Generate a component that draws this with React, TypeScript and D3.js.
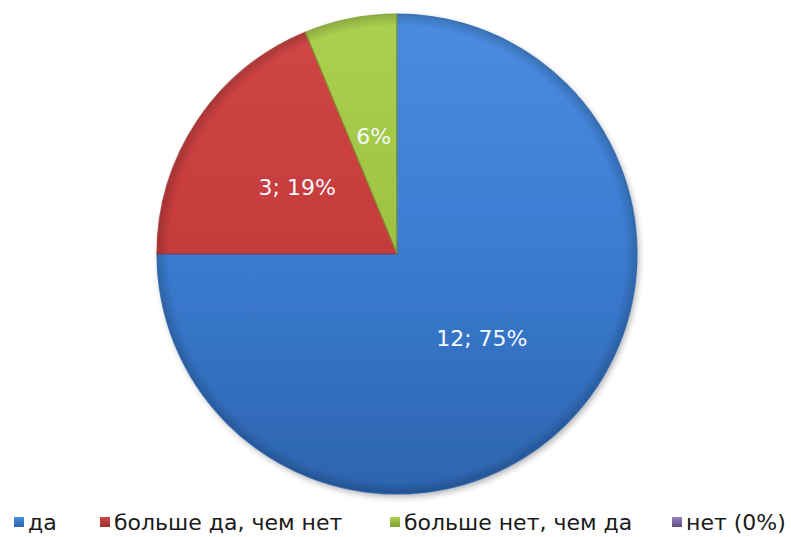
import React from "react";
import * as d3 from "d3";

const categories = ["да", "больше да, чем нет", "больше нет, чем да", "нет (0%)"];
const values = [12, 3, 1, 0];
const sliceLabels = ["12; 75%", "3; 19%", "6%", ""];
const colors = ["#3c7ed3", "#c63c3c", "#9ec442", "#8064a2"];
const darkColors = ["#2c64af", "#a32f2f", "#7f9f30", "#5f4a80"];
const lightColors = ["#4a8ce0", "#d04646", "#acd050", "#9a80bd"];

const W = 791;
const H = 537;
const cx = 397;
const cy = 254;
const R = 240;

export default function App() {
  const pie = d3.pie<number>().value((d) => d).sort(null).startAngle(0).endAngle(2 * Math.PI);
  const arcs = pie(values);
  const arc = d3.arc<d3.PieArcDatum<number>>().innerRadius(0).outerRadius(R);

  const legendX = [14, 100, 390, 672];

  return (
    <svg width={W} height={H} style={{ position: "absolute", left: 0, top: 0, background: "#fff" }}>
      <defs>
        {colors.map((c, i) => (
          <linearGradient key={i} id={`g${i}`} x1={0} y1={-R} x2={0} y2={R} gradientUnits="userSpaceOnUse">
            <stop offset="0%" stopColor={lightColors[i]} />
            <stop offset="45%" stopColor={c} />
            <stop offset="100%" stopColor={darkColors[i]} />
          </linearGradient>
        ))}
        {colors.map((c, i) => (
          <radialGradient key={"e" + i} id={`e${i}`} cx={0} cy={0} r={R} gradientUnits="userSpaceOnUse">
            <stop offset="0%" stopColor="#000" stopOpacity={0} />
            <stop offset="95%" stopColor="#000" stopOpacity={0} />
            <stop offset="100%" stopColor="#000" stopOpacity={0.18} />
          </radialGradient>
        ))}
        {colors.map((c, i) => (
          <linearGradient key={"l" + i} id={`lg${i}`} x1="0" y1="0" x2="0" y2="1">
            <stop offset="0%" stopColor={lightColors[i]} />
            <stop offset="100%" stopColor={darkColors[i]} />
          </linearGradient>
        ))}
        <filter id="shadow" x="-10%" y="-10%" width="130%" height="130%">
          <feGaussianBlur in="SourceAlpha" stdDeviation="3" />
          <feOffset dx="2" dy="3" result="ob" />
          <feComponentTransfer>
            <feFuncA type="linear" slope="0.3" />
          </feComponentTransfer>
          <feMerge>
            <feMergeNode />
            <feMergeNode in="SourceGraphic" />
          </feMerge>
        </filter>
      </defs>
      <g transform={`translate(${cx},${cy})`} filter="url(#shadow)">
        {arcs.map((a, i) =>
          a.value > 0 ? <path key={i} d={arc(a) || ""} fill={`url(#g${i})`} /> : null
        )}
      </g>
      <g transform={`translate(${cx},${cy})`}>
        {arcs.map((a, i) =>
          a.value > 0 ? <path key={"o" + i} d={arc(a) || ""} fill={`url(#e${i})`} /> : null
        )}
        {arcs.map((a, i) =>
          a.value > 0 ? (
            <path key={"s" + i} d={arc(a) || ""} fill="none" stroke={darkColors[i]} strokeWidth={1.2} strokeOpacity={0.8} />
          ) : null
        )}
        {arcs.map((a, i) => {
          if (!sliceLabels[i]) return null;
          const [x, y] = arc.centroid(a);
          return (
            <text
              key={"t" + i}
              x={x}
              y={y}
              textAnchor="middle"
              dominantBaseline="central"
              fill="#f4f8ff"
              fontFamily="DejaVu Sans"
              fontSize={22}
            >
              {sliceLabels[i]}
            </text>
          );
        })}
      </g>
      <g>
        {categories.map((c, i) => (
          <g key={"leg" + i} transform={`translate(${legendX[i]},522)`}>
            <rect x={0} y={-5} width={10} height={10} fill={`url(#lg${i})`} />
            <text x={14} y={0} dominantBaseline="central" fontFamily="DejaVu Sans" fontSize={22} fill="#1a1a1a">
              {c}
            </text>
          </g>
        ))}
      </g>
    </svg>
  );
}
